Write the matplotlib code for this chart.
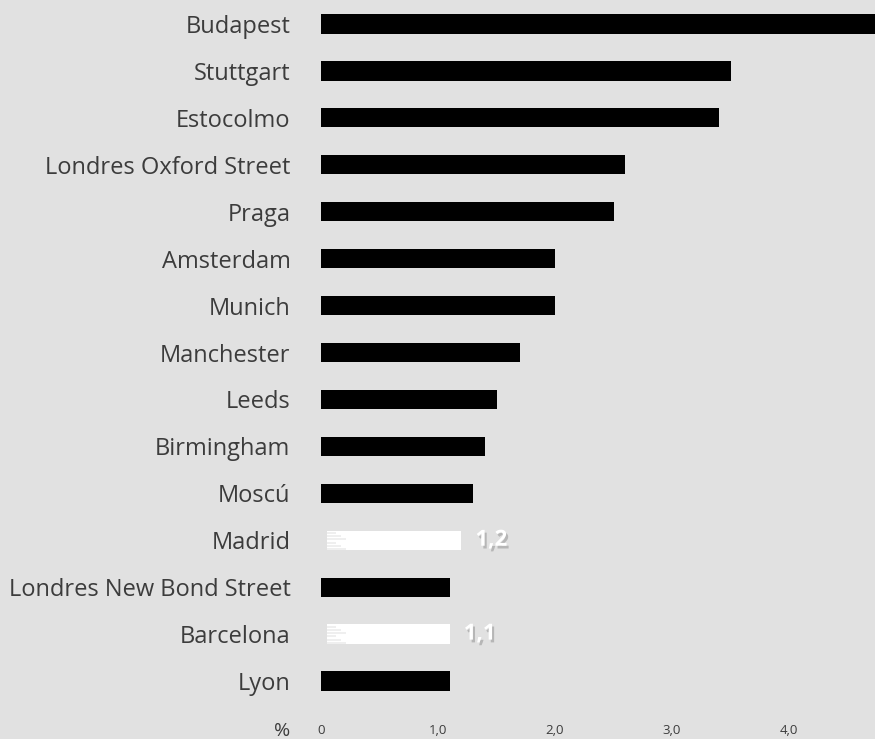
import numpy as np
import matplotlib.pyplot as plt
import matplotlib.patheffects as pe

# -----------------------------
# Data
# -----------------------------
cities = ['Budapest', 'Stuttgart', 'Estocolmo', 'Londres Oxford Street', 'Praga',
          'Amsterdam', 'Munich', 'Manchester', 'Leeds', 'Birmingham', 'Moscú',
          'Madrid', 'Londres New Bond Street', 'Barcelona', 'Lyon']
values = [5.0, 3.5, 3.4, 2.6, 2.5, 2.0, 2.0, 1.7, 1.5, 1.4, 1.3, 1.2, 1.1, 1.1, 1.1]
highlight = ['Madrid', 'Barcelona']
tick_vals = [0, 1, 2, 3, 4]
tick_labels = ['0', '1,0', '2,0', '3,0', '4,0']

bg = '#e1e1e1'
txt = '#3c3c3c'

plt.rcParams['font.family'] = ['Open Sans', 'DejaVu Sans']

fig = plt.figure(figsize=(8.75, 7.39), dpi=100, facecolor=bg)
ax = fig.add_axes([321/875, 34.5/739, 554/875, 704/739], facecolor=bg)

y = np.arange(len(cities))
for i, (c, v) in enumerate(zip(cities, values)):
    if c in highlight:
        ax.barh(i, v - 0.05, left=0.05, height=0.41, color='white')
        # rough brush edge on the left of the white bars
        for k, off in enumerate([-0.16, -0.09, -0.02, 0.05, 0.12, 0.18]):
            ax.plot([0.05, 0.05 + 0.08 + 0.04 * (k % 3)], [i + off, i + off],
                    color=bg, lw=1.2, alpha=0.6, solid_capstyle='butt')
        ax.text(v + 0.12, i, f'{v:.1f}'.replace('.', ','), va='center', ha='left',
                color='white', fontsize=16, fontweight='bold',
                path_effects=[pe.withSimplePatchShadow(offset=(1.5, -2), shadow_rgbFace='#9a9a9a', alpha=0.6)])
    else:
        ax.barh(i, v, height=0.41, color='black')

ax.set_ylim(len(cities) - 0.5, -0.5)
ax.set_xlim(0, 554/117)
ax.set_yticks(y)
ax.set_yticklabels(cities, fontsize=17, color=txt)
ax.set_xticks(tick_vals)
ax.set_xticklabels(tick_labels, fontsize=9.5, color=txt)
ax.tick_params(axis='y', length=0, pad=22)
ax.tick_params(axis='x', length=0, pad=14)
for s in ax.spines.values():
    s.set_visible(False)

fig.text(282/875, 1 - 731/739, '%', fontsize=14, color=txt, ha='center', va='center')

fig.savefig('out.png', dpi=100, facecolor=bg)
